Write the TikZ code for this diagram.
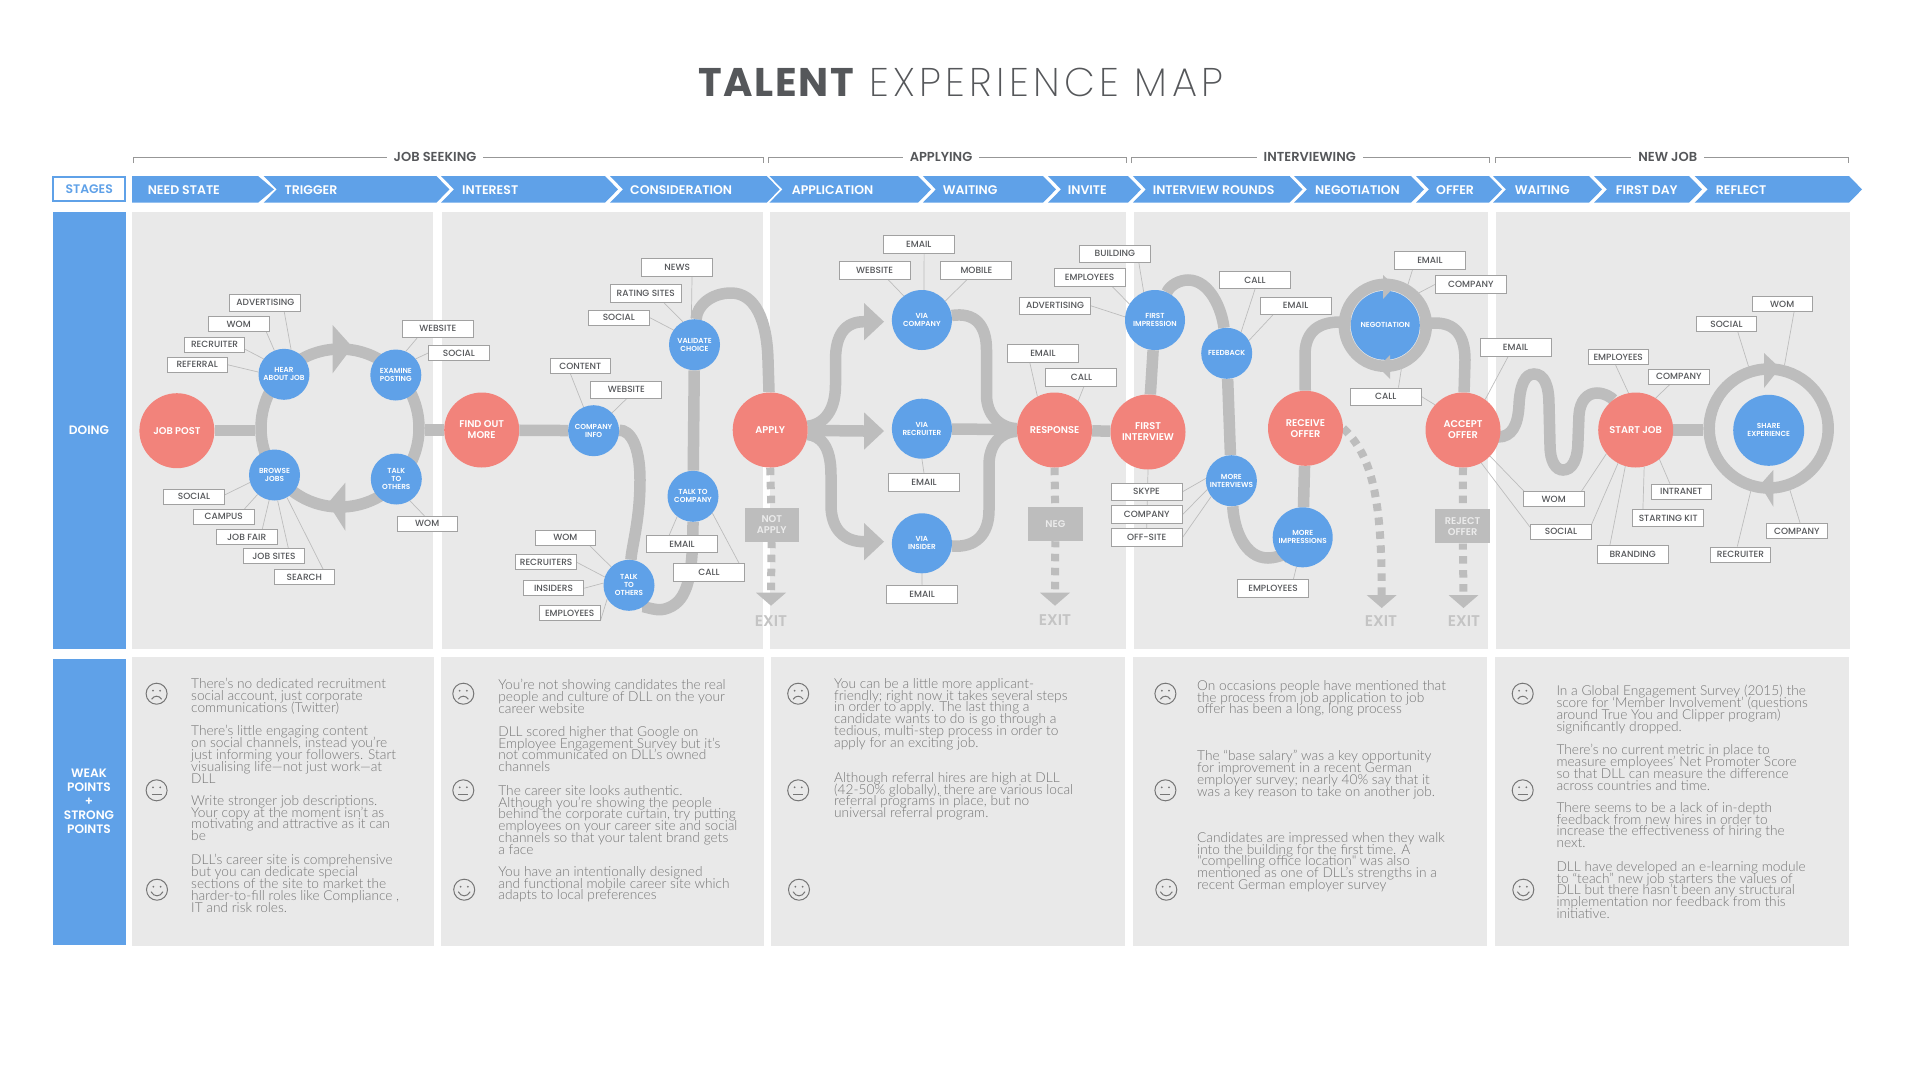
\documentclass[tikz,border=0pt]{standalone}
\usepackage{fontspec}
\usepackage{tikz}
\setmainfont{Poppins}
\newfontfamily\semifont{Poppins SemiBold}
\newfontfamily\medfont{Poppins Medium}
\newfontfamily\titlebold{Poppins Bold}[LetterSpace=4]
\newfontfamily\titlethin{Poppins ExtraLight}[LetterSpace=11]
\newfontfamily\bodyfont{Lato Light}
\newcommand{\tightlines}{\setlength{\lineskiplimit}{-20pt}}
\definecolor{stageblue}{HTML}{5FA1E8}
\definecolor{redstep}{HTML}{F2837B}
\definecolor{flowgrey}{HTML}{BDBDBD}
\definecolor{panelgrey}{HTML}{E9E9E9}
\definecolor{inkgrey}{HTML}{55575A}
\definecolor{bodygrey}{HTML}{767676}
\pgfdeclarelayer{panel}
\pgfdeclarelayer{flow}
\pgfsetlayers{panel,flow,main}
\tikzset{
    redstepnode/.style={circle,fill=redstep,text=white,minimum size=75pt,inner sep=0pt,align=center,font=\semifont\fontsize{9.8}{11}\selectfont},
    bluenode/.style={circle,fill=stageblue,text=white,minimum size=51pt,inner sep=0pt,align=center,font=\semifont\fontsize{7.3}{8}\selectfont},
    bigblue/.style={bluenode,minimum size=60pt},
    smalltag/.style={rectangle,draw=flowgrey!85!black,fill=white,line width=.9pt,minimum width=60.5pt,minimum height=15pt,inner sep=0pt,text=inkgrey,font=\medfont\fontsize{9}{9}\selectfont},
    bigtag/.style={smalltag,minimum width=71pt,minimum height=17.5pt},
    tagline/.style={draw=flowgrey,line width=.7pt},
    flowline/.style={draw=flowgrey,line width=11.5pt},
    loopring/.style={circle,draw=flowgrey,line width=11.5pt,inner sep=0pt},
    exitline/.style={draw=flowgrey,line width=8pt,dash pattern=on 7.5pt off 6.5pt},
    exitbox/.style={rectangle,fill=flowgrey,text=white!92!black,inner sep=0pt,align=center,font=\semifont\fontsize{9.8}{11}\selectfont},
    exittext/.style={text=flowgrey!90!white,inner sep=0pt,font=\semifont\fontsize{15.5}{15}\selectfont},
    stagetext/.style={anchor=west,text=white,inner sep=0pt,font=\semifont\fontsize{12.5}{13}\selectfont},
    phasetext/.style={fill=white,inner xsep=7pt,inner ysep=2pt,text=inkgrey,font=\semifont\fontsize{13}{13}\selectfont},
    sidetext/.style={text=white,inner sep=0pt,align=center,font=\semifont\fontsize{12.2}{14}\selectfont},
    bodytext/.style={anchor=north west,inner sep=0pt,align=left,text=bodygrey,font=\bodyfont\fontsize{13.7}{11.9}\selectfont\tightlines},
    sadface/.pic={
        \draw[bodygrey,line width=1pt] (0,0) circle (10.5) ;
        \fill[bodygrey] (-3.6,-3) circle (1) (3.6,-3) circle (1) ;
        \draw[bodygrey,line width=1pt] (-5,5.5) .. controls (-2.5,1.5) and (2.5,1.5) .. (5,5.5) ;
    },
    flatface/.pic={
        \draw[bodygrey,line width=1pt] (0,0) circle (10.5) ;
        \fill[bodygrey] (-3.6,-3) circle (1) (3.6,-3) circle (1) ;
        \draw[bodygrey,line width=1pt] (-5,3.8) -- (5,3.8) ;
    },
    gladface/.pic={
        \draw[bodygrey,line width=1pt] (0,0) circle (10.5) ;
        \fill[bodygrey] (-3.6,-3) circle (1) (3.6,-3) circle (1) ;
        \draw[bodygrey,line width=1pt] (-6,2) .. controls (-3,7.5) and (3,7.5) .. (6,2) ;
    },
}

\begin{document}
\begin{tikzpicture}[x=1pt,y=-1pt]
    \useasboundingbox (0,0) rectangle (1920,1080);

    \node[anchor=base west,inner sep=0pt,text=inkgrey,font=\titlebold\fontsize{40}{40}\selectfont] (titlea) at (698,96.7) {TALENT};
    \node[anchor=base west,inner sep=0pt,text=inkgrey,font=\titlethin\fontsize{40}{40}\selectfont] (titleb) at (869,96.7) {EXPERIENCE MAP};

    \begin{pgfonlayer}{panel}
    \fill[white] (0,0) rectangle (1920,1080);
    \foreach \xa/\xb in {132/433, 441.6/763, 770.4/1126, 1133.8/1487.7, 1496/1850}
    \fill[panelgrey] (\xa,212) rectangle (\xb,649);
    \foreach \xa/\xb in {132/434, 441/763.5, 771/1125, 1133/1487, 1495/1849}
    \fill[panelgrey] (\xa,657) rectangle (\xb,946);
    \fill[stageblue] (53.2,212) rectangle (125.9,649);
    \fill[stageblue] (53.2,659) rectangle (125.9,945);
    \end{pgfonlayer}

    \node[sidetext] (doing) at (89,430) {DOING};
    \node[sidetext] (weak) at (89,801) {WEAK\\POINTS\\+\\STRONG\\POINTS};

    \node[rectangle,draw=stageblue,line width=2pt,fill=white,minimum width=72pt,minimum height=24pt,inner sep=0pt,text=stageblue,font=\semifont\fontsize{12.4}{12}\selectfont] (stages) at (89.2,188.7) {STAGES};

    \fill[stageblue] (132,176) -- (258,176) -- (274,189.4) -- (258,202.7) -- (132,202.7) -- cycle ;
    \foreach \xa/\xb in {263.7/436.4, 441/605, 610/766.7, 769.4/918, 922.8/1043, 1048/1128, 1132.8/1289.5, 1294/1411, 1416/1489, 1493/1589, 1594/1689, 1694.7/1849}
    \fill[stageblue] (\xa,176) -- (\xb,176) -- (\xb+13,189.4) -- (\xb,202.7) -- (\xa,202.7) -- (\xa+13,189.4) -- cycle ;
    \foreach \nm/\x/\txt in {needstate/147.6/NEED STATE, trigger/284.5/TRIGGER, interest/462/INTEREST, consider/630/CONSIDERATION, application/791.6/APPLICATION, waitone/942.6/WAITING, invite/1067.7/INVITE, rounds/1152.6/INTERVIEW ROUNDS, negostage/1315/NEGOTIATION, offerstage/1436/OFFER, waittwo/1514.7/WAITING, firstday/1615.7/FIRST DAY, reflect/1715.7/REFLECT}
    \node[stagetext] (\nm) at (\x,190.3) {\txt};

    \foreach \xa/\xb/\xm/\nm/\txt in {133.4/763.4/435/jobseek/JOB SEEKING, 768/1126.7/941/applying/APPLYING, 1131.4/1489/1309.8/interviewing/INTERVIEWING, 1495/1848.3/1667.7/newjob/NEW JOB}
    {
    \draw[flowgrey!80!black,line width=.8pt] (\xa,163) -- (\xa,157.3) -- (\xb,157.3) -- (\xb,163);
    \node[phasetext] (\nm) at (\xm,157.3) {\txt};
    }

    \foreach \nm/\x/\y/\txt in {jobpost/176.9/430.7/JOB POST, findout/481.7/430/FIND OUT\\MORE, applyjob/770.2/430/APPLY, response/1054.5/430/RESPONSE, firstint/1148/432/FIRST\\INTERVIEW, receive/1305.5/428.3/RECEIVE\\OFFER, accept/1463/430/ACCEPT\\OFFER, startjob/1635.7/430/START JOB}
    \node[redstepnode] (\nm) at (\x,\y) {\txt};

    \node[loopring,minimum size=158pt] (jobring) at (340,428) {};
    \node[loopring,minimum size=82pt] (negring) at (1385.3,325.3) {};
    \node[loopring,minimum size=119pt] (sharering) at (1768.7,428.5) {};

    \foreach \nm/\x/\y/\txt in {hearjob/284/374.3/HEAR\\ABOUT JOB, examine/395.8/375/EXAMINE\\POSTING, browse/274.5/475/BROWSE\\JOBS, talkone/396.3/479/TALK\\TO\\OTHERS, compinfo/593.6/430.7/COMPANY\\INFO, validate/694.5/344.7/VALIDATE\\CHOICE, talkcomp/693/496.3/TALK TO\\COMPANY, talktwo/629/585.3/TALK\\TO\\OTHERS, feedback/1226.7/353.3/FEEDBACK, moreint/1231.4/480.7/MORE\\INTERVIEWS}
    \node[bluenode] (\nm) at (\x,\y) {\txt};
    \foreach \nm/\x/\y/\txt in {viacomp/921.9/320/VIA\\COMPANY, viarecruit/921.9/428.7/VIA\\RECRUITER, viainsider/921.9/543.3/VIA\\INSIDER, firstimp/1155/320/FIRST\\IMPRESSION, moreimpr/1302.7/537.3/MORE\\IMPRESSIONS}
    \node[bigblue] (\nm) at (\x,\y) {\txt};
    \node[bluenode,minimum size=69pt] (negotiation) at (1385.3,325.3) {NEGOTIATION};
    \node[bluenode,minimum size=71pt] (share) at (1768.7,430.3) {SHARE\\EXPERIENCE};

    \foreach \nm/\x/\y/\txt in {wom a/238.7/324.2/WOM, recruit a/214.6/344.5/RECRUITER, referral/197.2/364.8/REFERRAL, social a/458.9/353/SOCIAL, social b/194/496.5/SOCIAL, campus/223.8/516.8/CAMPUS, jobfair/246.7/537/JOB FAIR, jobsites/274/556.2/JOB SITES, search/304.3/577/SEARCH, wom b/427.2/523.8/WOM, content/580.3/366/CONTENT, social c/618.8/317.5/SOCIAL, wom c/565.3/537.8/WOM, recruit b/546.1/562.3/RECRUITERS, insiders/553.5/588.2/INSIDERS, employ a/569.7/613.3/EMPLOYEES, employ c/1618.2/357.2/EMPLOYEES, company c/1678.8/376.7/COMPANY, social d/1726.5/324.2/SOCIAL, wom d/1782.2/304.2/WOM, wom e/1553.7/499.2/WOM, social e/1561/531.8/SOCIAL, intranet/1681.2/491.5/INTRANET, company d/1796.8/531.3/COMPANY, recruit c/1740.5/554.5/RECRUITER}
    \node[smalltag] (\nm) at (\x,\y) {\txt};
    \foreach \nm/\x/\y/\txt in {advert a/265.4/302.7/ADVERTISING, website a/437.8/328.8/WEBSITE, website b/626.4/389.7/WEBSITE, news/677.3/267.3/NEWS, rating/645.7/293.3/RATING SITES, email a/682/544/EMAIL, call a/709/572.5/CALL, email b/918.8/244.2/EMAIL, website c/874.7/270.2/WEBSITE, mobile/976.4/270.2/MOBILE, email c/924/482.5/EMAIL, email d/922.1/594.2/EMAIL, email e/1042.9/353.2/EMAIL, call b/1081.4/377.5/CALL, building/1114.9/253.7/BUILDING, employ b/1089.6/277.5/EMPLOYEES, advert b/1055/305.8/ADVERTISING, call c/1255/280/CALL, email f/1295.6/305.8/EMAIL, skype/1146.5/491.8/SKYPE, company a/1146.7/514.5/COMPANY, offsite/1146.7/537.3/OFF-SITE, employ d/1273/588.3/EMPLOYEES, email g/1429.9/260.2/EMAIL, company b/1470.8/284.5/COMPANY, call d/1385.8/396.7/CALL, email h/1515.5/347.5/EMAIL, startkit/1668.2/518/STARTING KIT, branding/1632.7/554.2/BRANDING}
    \node[bigtag] (\nm) at (\x,\y) {\txt};

    \node[exitbox,minimum width=54.4pt,minimum height=34pt] (notapply) at (771.8,525) {NOT\\APPLY};
    \node[exitbox,minimum width=54.8pt,minimum height=33.7pt] (neg) at (1055.4,524.2) {NEG};
    \node[exitbox,minimum width=54.7pt,minimum height=34.3pt] (reject) at (1462.6,526.2) {REJECT\\OFFER};

    \foreach \nm/\x/\y in {exita/771/621, exitb/1055/620, exitc/1381/621, exitd/1464/621}
    \node[exittext] (\nm) at (\x,\y) {EXIT};

    \coordinate (endapply) at (771,592.7);
    \coordinate (endneg) at (1055,592.7);
    \coordinate (endreceive) at (1381.7,595);
    \coordinate (endreject) at (1463.5,595);
    \coordinate (headtop) at (864,321.7);
    \coordinate (headmid) at (864,431);
    \coordinate (headlow) at (864,541.7);

    \begin{pgfonlayer}{flow}
    \foreach \a/\b in {advert a.-26/hearjob.74, wom a.-16/hearjob.112, recruit a.-9/hearjob.143, referral.0/hearjob.175, website a.204/examine.67, social a.180/examine.39, social b.3/browse.197, campus.21/browse.229, jobfair.27/browse.258, jobsites.29/browse.277, search.23/browse.299, wom b.109/talkone.-58, content.219/compinfo.113, website b.-90/compinfo.44, news.-32/validate.97, rating.-27/validate.117, social c.0/validate.145, email a.144/talkcomp.232, call a.17/talkcomp.-41, wom c.-18/talktwo.134, recruit b.0/talktwo.161, insiders.0/talktwo.175, employ a.-14/talktwo.212, email b.-60/viacomp.86, website c.-35/viacomp.127, mobile.225/viacomp.39, email c.90/viarecruit.-90, email d.90/viainsider.-90, email e.215/response.117, call b.-75/response.51, building.-21/firstimp.112, employ b.-22/firstimp.148, advert b.0/firstimp.174, call c.-90/feedback.56, email f.202/feedback.30, firstint.south/offsite.north, skype.0/moreint.175, company a.0/moreint.200, offsite.0/moreint.218, employ d.-30/moreimpr.258, email g.208/negring.61, company b.180/negring.44, call d.36/negring.-70, call d.0/accept.138, email h.231/accept.54, employ c.252/startjob.101, company c.221/startjob.58, wom e.165/accept.-44, wom e.16/startjob.219, social e.172/accept.-61, social e.14/startjob.242, branding.158/startjob.254, startkit.160/startjob.283, intranet.145/startjob.-51, social d.-35/sharering.108, wom d.-34/sharering.76, company d.67/sharering.-71, recruit c.112/sharering.254}
    \draw[tagline] (\a) -- (\b);

    \draw[flowline] (jobpost) -- (jobpost -| jobring.west);
    \draw[flowline] (jobring.east |- findout) -- (findout);
    \draw[flowline] (findout) -- (compinfo);
    \draw[flowline] (compinfo) .. controls (630,430) and (640,445) .. (640,480) .. controls (640,520) and (632,545) .. (talktwo);
    \draw[flowline] (talktwo) .. controls (640,604) and (655,612) .. (665,609) .. controls (685,603) and (693,585) .. (talkcomp);
    \draw[flowline] (talkcomp) -- (validate);
    \draw[flowline] (validate) .. controls (697,305) and (712,293) .. (731,293) .. controls (755,293) and (767,320) .. (768,360) -- (applyjob);
    \draw[flowline] (applyjob) -- (headmid);
    \draw[flowline] (applyjob) .. controls (820,425) and (835.5,415) .. (835.5,385) -- (835.5,360) .. controls (835.5,335) and (845,321.7) .. (headtop);
    \draw[flowline] (applyjob) .. controls (820,436) and (831,445) .. (831,475) -- (831,505) .. controls (831,530) and (845,541.7) .. (headlow);
    \draw[flowline] (viacomp) .. controls (975,312) and (986.5,325) .. (986.5,350) -- (986.5,395) .. controls (986.5,415) and (1000,428) .. (response);
    \draw[flowline] (viarecruit) -- (response);
    \draw[flowline] (viainsider) .. controls (975,548) and (989,535) .. (989,510) -- (989,465) .. controls (989,445) and (1000,432) .. (response);
    \draw[flowline] (response) -- (firstint);
    \draw[flowline] (firstint) -- (firstimp);
    \draw[flowline] (firstimp) .. controls (1170,285) and (1180,280) .. (1188,280) .. controls (1210,280) and (1222,310) .. (feedback);
    \draw[flowline] (feedback) -- (moreint);
    \draw[flowline] (moreint) .. controls (1234,530) and (1245,558) .. (1268,558) .. controls (1280,558) and (1290,550) .. (moreimpr);
    \draw[flowline] (moreimpr) -- (receive);
    \draw[flowline] (receive) -- (1305,355) .. controls (1305,335) and (1315,322) .. (1340,322) -- (negotiation);
    \draw[flowline] (negotiation) -- (1435,323) .. controls (1455,323) and (1465,335) .. (1465,360) -- (accept);
    \draw[flowline] (accept) -- (1498,437) .. controls (1512,437) and (1518,425) .. (1519,405) .. controls (1520,385) and (1525,374) .. (1534,374) .. controls (1544,374) and (1549,385) .. (1549,405) -- (1550,445) .. controls (1550,462) and (1556,470) .. (1563,470) .. controls (1572,470) and (1578,460) .. (1578,440) -- (1579,415) .. controls (1580,400) and (1588,393) .. (1597,393) .. controls (1605,393) and (1612,398) .. (startjob);
    \draw[flowline] (startjob) -- (sharering.west |- startjob);

    \draw[exitline] (applyjob.south) -- (notapply);
    \draw[exitline,dash phase=1.5pt] (notapply) -- (endapply);
    \draw[exitline] (response.south) -- (neg);
    \draw[exitline,dash phase=1.5pt] (neg) -- (endneg);
    \draw[exitline] (accept.south) -- (reject);
    \draw[exitline,dash phase=1.5pt] (reject) -- (endreject);
    \draw[exitline] (receive.0) .. controls (1372,455) and (1382,500) .. (endreceive);
    \end{pgfonlayer}

    \foreach \c in {headtop,headmid,headlow}
    \fill[flowgrey,shift={(\c)}] (0,-18.7) -- (20,0) -- (0,18.7) -- cycle ;
    \foreach \c in {endapply,endneg,endreceive,endreject}
    \fill[flowgrey,shift={(\c)}] (-15,0) -- (15,0) -- (0,13) -- cycle ;

    \fill[flowgrey] (332.6,325) -- (352.4,347) -- (332.6,373.3) -- cycle ;
    \fill[flowgrey] (345.3,482.7) -- (327.9,503.3) -- (345.3,530.7) -- cycle ;
    \fill[flowgrey] (1383,275) -- (1395,286) -- (1383,299) -- cycle ;
    \fill[flowgrey] (1390,355) -- (1378,367) -- (1390,379) -- cycle ;
    \fill[flowgrey] (1764,353) -- (1780,368) -- (1764,388) -- cycle ;
    \fill[flowgrey] (1773.3,470) -- (1760,485) -- (1773.3,506.7) -- cycle ;

    \foreach \xa/\xb in {156.6/157, 463.3/464.2, 798.2/799, 1165.4/1166.3, 1522.7/1523.3}
    {
    \pic at (\xa,693.7) {sadface};
    \pic at (\xa,790.3) {flatface};
    \pic at (\xb,889.7) {gladface};
    }

    \node[bodytext] (weakone) at (191,678) {There’s no dedicated recruitment\\social account, just corporate\\communications (Twitter)};
    \node[bodytext] (weaktwo) at (191,725) {There’s little engaging content\\on social channels, instead you’re\\just informing your followers. Start\\visualising life—not just work—at\\DLL};
    \node[bodytext] (weakthree) at (191,795) {Write stronger job descriptions.\\Your copy at the moment isn’t as\\motivating and attractive as it can\\be};
    \node[bodytext] (strongone) at (191,854) {DLL’s career site is comprehensive\\but you can dedicate special\\sections of the site to market the\\harder-to-fill roles like Compliance ,\\IT and risk roles.};

    \node[bodytext] (weakfour) at (498.2,679) {You’re not showing candidates the real\\people and culture of DLL on the your\\career website};
    \node[bodytext] (weakfive) at (498.2,726) {DLL scored higher that Google on\\Employee Engagement Survey but it’s\\not communicated on DLL’s owned\\channels};
    \node[bodytext] (flatone) at (498.2,785) {The career site looks authentic.\\Although you’re showing the people\\behind the corporate curtain, try putting\\employees on your career site and social\\channels so that your talent brand gets\\a face};
    \node[bodytext] (strongtwo) at (498.2,866) {You have an intentionally designed\\and functional mobile career site which\\adapts to local preferences};

    \node[bodytext] (weaksix) at (834,678) {You can be a little more applicant-\\friendly; right now it takes several steps\\in order to apply. The last thing a\\candidate wants to do is go through a\\tedious, multi-step process in order to\\apply for an exciting job.};
    \node[bodytext] (flattwo) at (834,772) {Although referral hires are high at DLL\\(42-50\% globally), there are various local\\referral programs in place, but no\\universal referral program.};

    \node[bodytext] (weakseven) at (1197,680) {On occasions people have mentioned that\\the process from job application to job\\offer has been a long, long process};
    \node[bodytext] (flatthree) at (1197,750) {The “base salary” was a key opportunity\\for improvement in a recent German\\employer survey; nearly 40\% say that it\\was a key reason to take on another job.};
    \node[bodytext] (strongthree) at (1197,832) {Candidates are impressed when they walk\\into the building for the first time. A\\"compelling office location" was also\\mentioned as one of DLL’s strengths in a\\recent German employer survey};

    \node[bodytext] (weakeight) at (1556.3,685) {In a Global Engagement Survey (2015) the\\score for ‘Member Involvement’ (questions\\around True You and Clipper program)\\significantly dropped.};
    \node[bodytext] (flatfour) at (1556.3,744) {There’s no current metric in place to\\measure employees’ Net Promoter Score\\so that DLL can measure the difference\\across countries and time.};
    \node[bodytext] (flatfive) at (1556.3,802) {There seems to be a lack of in-depth\\feedback from new hires in order to\\increase the effectiveness of hiring the\\next.};
    \node[bodytext] (strongfour) at (1556.3,861) {DLL have developed an e-learning module\\to “teach” new job starters the values of\\DLL but there hasn’t been any structural\\implementation nor feedback from this\\initiative.};
\end{tikzpicture}
\end{document}
